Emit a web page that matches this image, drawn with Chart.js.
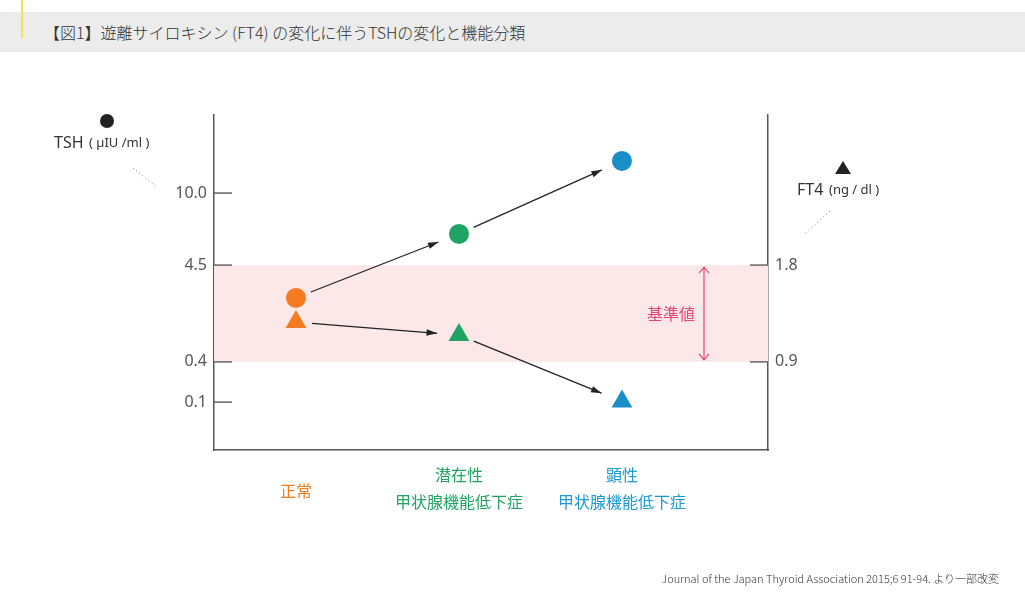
<!DOCTYPE html>
<html><head><meta charset="utf-8">
<script src="https://cdn.jsdelivr.net/npm/chart.js@4/dist/chart.umd.min.js"></script>
<style>
body{margin:0;width:1025px;height:606px;background:#fff;font-family:"Noto Sans CJK JP","Noto Sans",sans-serif;position:relative;overflow:hidden}
.hdr{position:absolute;left:0;top:12px;width:1025px;height:40px;background:#ececec}
.bar{position:absolute;left:21px;top:0;width:2px;height:38px;background:#f3e24a}
.ttl{position:absolute;left:44px;top:20px;font-size:16px;color:#333;font-weight:300}
.lbl{position:absolute;font-size:16px;text-align:center;line-height:27px;transform:translateX(-50%);white-space:nowrap}
.src{position:absolute;right:26px;top:570px;font-size:11px;color:#333;font-weight:300}
canvas{position:absolute;left:0;top:0}
</style></head><body>
<div class="hdr"></div><div class="bar"></div>
<div class="ttl">【図1】遊離サイロキシン (FT4) の変化に伴うTSHの変化と機能分類</div>
<canvas id="c" width="1025" height="606"></canvas>
<div class="lbl" style="left:296px;top:477px;color:#f47b20">正常</div>
<div class="lbl" style="left:459px;top:461px;color:#1fa463">潜在性<br>甲状腺機能低下症</div>
<div class="lbl" style="left:622px;top:461px;color:#1a9bd4">顕性<br>甲状腺機能低下症</div>
<div class="src">Journal of the Japan Thyroid Association 2015;6 91-94. より一部改変</div>
<script>
// axis levels (vertical position units, 0 = bottom, 100 = top)
const tshTicks = ['10.0', '4.5', '0.4', '0.1'];
const tshLevels = [76.7, 55.2, 26.3, 14.3];
const ft4Ticks = ['1.8', '0.9'];
const ft4Levels = [55.2, 26.3];
const categories = ['正常', '潜在性甲状腺機能低下症', '顕性甲状腺機能低下症'];
const colors = ['#f47b20', '#1fa463', '#1a8fc7'];
const tshValues = [45.4, 64.5, 86.3];
const ft4Values = [38.2, 34.3, 14.5];
const bandRange = [26.3, 55.2];

const overlay = {
  id: 'overlay',
  beforeDatasetsDraw(chart) {
    const {ctx, chartArea: a, scales: {x, y}} = chart;
    ctx.save();
    ctx.fillStyle = '#fde8e9';
    const t = y.getPixelForValue(bandRange[1]), b = y.getPixelForValue(bandRange[0]);
    ctx.fillRect(a.left, t, a.right - a.left, b - t);
    ctx.strokeStyle = '#666'; ctx.lineWidth = 1.5;
    tshLevels.forEach(v => { const p = y.getPixelForValue(v); ctx.beginPath(); ctx.moveTo(a.left, p); ctx.lineTo(a.left + 18, p); ctx.stroke(); });
    ft4Levels.forEach(v => { const p = y.getPixelForValue(v); ctx.beginPath(); ctx.moveTo(a.right, p); ctx.lineTo(a.right - 18, p); ctx.stroke(); });
    // reference arrow
    ctx.strokeStyle = '#e8457a'; ctx.lineWidth = 1.2;
    const ax = 704;
    ctx.beginPath(); ctx.moveTo(ax, t + 2); ctx.lineTo(ax, b - 2);
    ctx.moveTo(ax - 5, t + 8); ctx.lineTo(ax, t + 2); ctx.lineTo(ax + 5, t + 8);
    ctx.moveTo(ax - 5, b - 8); ctx.lineTo(ax, b - 2); ctx.lineTo(ax + 5, b - 8);
    ctx.stroke();
    ctx.fillStyle = '#e8457a'; ctx.font = '16px "Noto Sans CJK JP"'; ctx.textAlign = 'center'; ctx.textBaseline = 'middle';
    ctx.fillText('基準値', 671, (t + b) / 2);
    // transition arrows
    const arrow = (s, e, d0, d1) => {
      const x0 = x.getPixelForValue(s[0]), y0 = y.getPixelForValue(s[1]);
      const x1 = x.getPixelForValue(e[0]), y1 = y.getPixelForValue(e[1]);
      const an = Math.atan2(y1 - y0, x1 - x0);
      const sx = x0 + Math.cos(an) * d0, sy = y0 + Math.sin(an) * d0;
      const ex = x1 - Math.cos(an) * d1, ey = y1 - Math.sin(an) * d1;
      ctx.strokeStyle = '#222'; ctx.fillStyle = '#222'; ctx.lineWidth = 1.2;
      ctx.beginPath(); ctx.moveTo(sx, sy); ctx.lineTo(ex, ey); ctx.stroke();
      ctx.beginPath(); ctx.moveTo(ex, ey);
      ctx.lineTo(ex - 11 * Math.cos(an - 0.3), ey - 11 * Math.sin(an - 0.3));
      ctx.lineTo(ex - 11 * Math.cos(an + 0.3), ey - 11 * Math.sin(an + 0.3));
      ctx.closePath(); ctx.fill();
    };
    for (let i = 0; i < 2; i++) {
      arrow([i, tshValues[i]], [i + 1, tshValues[i + 1]], 16, 22);
      arrow([i, ft4Values[i]], [i + 1, ft4Values[i + 1]], 16, 22);
    }
    // legend marks
    ctx.fillStyle = '#222';
    ctx.beginPath(); ctx.arc(107, 121, 7, 0, Math.PI * 2); ctx.fill();
    ctx.beginPath(); ctx.moveTo(843, 161); ctx.lineTo(851, 174); ctx.lineTo(835, 174); ctx.closePath(); ctx.fill();
    ctx.fillStyle = '#333'; ctx.textAlign = 'left';
    ctx.font = '16px "Noto Sans"'; ctx.fillText('TSH', 54, 143);
    ctx.font = '13px "Noto Sans"'; ctx.fillText('( µIU /ml )', 89, 143);
    ctx.font = '16px "Noto Sans"'; ctx.fillText('FT4', 797, 190);
    ctx.font = '13px "Noto Sans"'; ctx.fillText('(ng / dl )', 829, 190);
    ctx.strokeStyle = '#777'; ctx.lineWidth = 1; ctx.setLineDash([1, 3]);
    ctx.beginPath(); ctx.moveTo(133, 168); ctx.lineTo(158, 188); ctx.moveTo(830, 211); ctx.lineTo(804, 235); ctx.stroke();
    ctx.restore();
  }
};

new Chart(document.getElementById('c'), {
  type: 'scatter',
  data: {
    datasets: [
      { data: tshValues.map((v, i) => ({x: i, y: v})), pointStyle: 'circle', pointRadius: 10, backgroundColor: colors, borderWidth: 0, yAxisID: 'y' },
      { data: ft4Values.map((v, i) => ({x: i, y: v})), pointStyle: 'triangle', pointRadius: 12, backgroundColor: colors, borderWidth: 0, yAxisID: 'y' }
    ]
  },
  options: {
    responsive: false, animation: false,
    layout: { padding: { left: 154, right: 197, top: 115, bottom: 156 } },
    plugins: { legend: { display: false }, tooltip: { enabled: false } },
    scales: {
      x: { type: 'linear', min: -0.503, max: 2.896, grid: { display: false }, ticks: { display: false },
           border: { color: '#555', width: 1.5 }, afterFit: s => { s.height = 0; } },
      y: { min: 0, max: 100, position: 'left', grid: { display: false, drawTicks: false }, border: { color: '#555', width: 1.5 },
           afterBuildTicks: s => { s.ticks = tshLevels.map(v => ({value: v})); },
           ticks: { callback: v => tshTicks[tshLevels.indexOf(v)], color: '#555', font: { size: 16, family: 'Noto Sans' }, padding: 7 },
           afterFit: s => { s.width = 60; } },
      y2: { min: 0, max: 100, position: 'right', grid: { display: false, drawTicks: false }, border: { color: '#555', width: 1.5 },
           afterBuildTicks: s => { s.ticks = ft4Levels.map(v => ({value: v})); },
           ticks: { callback: v => ft4Ticks[ft4Levels.indexOf(v)], color: '#555', font: { size: 16, family: 'Noto Sans' }, padding: 7 },
           afterFit: s => { s.width = 60; } }
    }
  },
  plugins: [overlay]
});
</script>
</body></html>
